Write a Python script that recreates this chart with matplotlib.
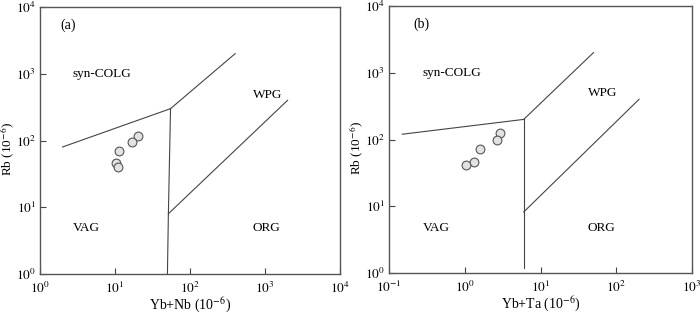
import numpy as np
import matplotlib
matplotlib.use("Agg")
import matplotlib.pyplot as plt
from matplotlib.ticker import FixedLocator, FuncFormatter

plt.rcParams['font.family'] = ['Liberation Serif', 'DejaVu Serif']
plt.rcParams['mathtext.fontset'] = 'stix'

# sample points
a_x = [20.5, 16.7, 11.3, 10.2, 11.1]
a_y = [117, 96, 70, 45.5, 40.5]
b_x = [2.92, 2.64, 1.59, 1.32, 1.04]
b_y = [123, 97.6, 73, 46, 42]

# discrimination boundaries (Pearce et al. 1984)
a_lines = [
    ([2, 55], [80, 300]),
    ([55, 400], [300, 2000]),
    ([55, 51.5, 50], [300, 8, 1]),
    ([51.5, 2000], [8, 400]),
]
b_lines = [
    ([0.15, 6], [120, 200]),
    ([6, 50], [200, 2000]),
    ([6, 6], [200, 1.2]),
    ([6, 200], [8.2, 400]),
]

a_text = [("syn-COLG", 2.75, 1000), ("WPG", 690, 480), ("VAG", 2.75, 4.9), ("ORG", 690, 4.9)]
b_text = [("syn-COLG", 0.28, 1000), ("WPG", 42, 490), ("VAG", 0.28, 4.8), ("ORG", 42, 4.8)]


def sup(v, pos):
    return r'$10^{%d}$' % int(round(np.log10(v)))


fig = plt.figure(figsize=(7, 3.15), dpi=100)
ax1 = fig.add_axes([40 / 700, 1 - 274 / 315, 300 / 700, 267 / 315])
ax2 = fig.add_axes([389 / 700, 1 - 273 / 315, 303 / 700, 267 / 315])

panels = [
    (ax1, a_x, a_y, a_lines, a_text, "(a)", (1, 1e4), (1.85, 5400), "Yb+Nb (10$^{-6}$)"),
    (ax2, b_x, b_y, b_lines, b_text, "(b)", (0.1, 1e3), (0.21, 5400), "Yb+Ta (10$^{-6}$)"),
]

for ax, xs, ys, lines, texts, tag, xlim, tagpos, xlabel in panels:
    ax.set_xscale('log')
    ax.set_yscale('log')
    ax.set_xlim(*xlim)
    ax.set_ylim(1, 1e4)
    for lx, ly in lines:
        ax.plot(lx, ly, color='#444444', lw=0.8)
    ax.scatter(xs, ys, s=40, facecolor='#e2e2e2', edgecolor='#555555', linewidth=0.8, zorder=3)
    for t, tx, ty in texts:
        ax.text(tx, ty, t, fontsize=9.5, ha='left', va='center')
    ax.text(tagpos[0], tagpos[1], tag, fontsize=10, ha='left', va='center')
    ax.xaxis.set_major_locator(FixedLocator([10.0 ** k for k in range(int(np.log10(xlim[0])), int(np.log10(xlim[1])) + 1)]))
    ax.yaxis.set_major_locator(FixedLocator([1, 10, 100, 1000, 1e4]))
    ax.xaxis.set_minor_locator(FixedLocator([]))
    ax.yaxis.set_minor_locator(FixedLocator([]))
    ax.xaxis.set_major_formatter(FuncFormatter(sup))
    ax.yaxis.set_major_formatter(FuncFormatter(sup))
    ax.tick_params(direction='in', length=4, width=0.8, color='#444444', labelsize=9.5, pad=5)
    ax.tick_params(axis='y', pad=3)
    for sp in ax.spines.values():
        sp.set_color('#555555')
        sp.set_linewidth(1.0)
    ax.set_xlabel(xlabel, fontsize=10)
    ax.set_ylabel("Rb (10$^{-6}$)", fontsize=9.5)
    ax.xaxis.set_label_coords(0.5, -0.118, transform=ax.transAxes)
    ax.yaxis.set_label_coords(-0.106, 0.47, transform=ax.transAxes)
    ax.xaxis.label.set_va('center')
    ax.yaxis.label.set_va('center')

fig.savefig("out.png", dpi=100)
